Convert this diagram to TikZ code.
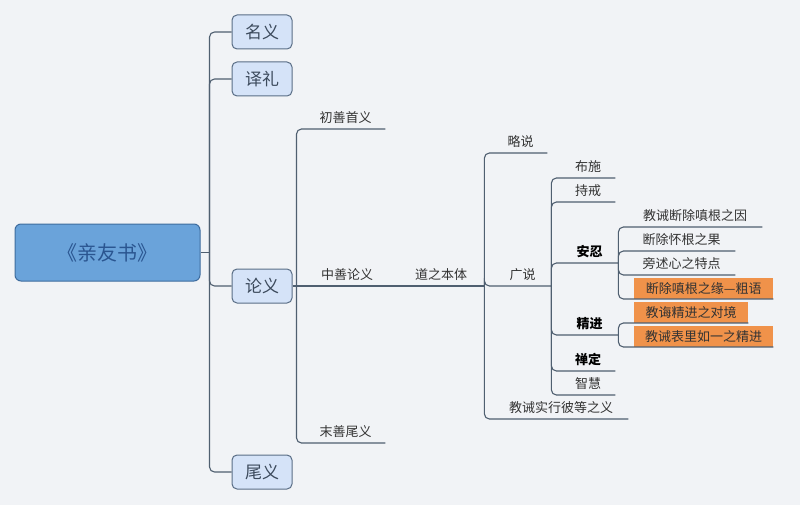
\documentclass[tikz,border=0pt]{standalone}
\usepackage{fontspec}
\newfontfamily\cjk{Noto Sans CJK SC}
\definecolor{bgclr}{HTML}{F1F3F6}
\definecolor{lineclr}{HTML}{4F5F70}
\definecolor{rootfill}{HTML}{6AA3DA}
\definecolor{rootdraw}{HTML}{3E6C9E}
\definecolor{roottext}{HTML}{2A5590}
\definecolor{boxfill}{HTML}{D5E3F8}
\definecolor{boxdraw}{HTML}{5A6E86}
\definecolor{boxtext}{HTML}{3C4A5C}
\definecolor{orangefill}{HTML}{F0924A}
\definecolor{txt}{HTML}{333333}

\begin{document}
\begin{tikzpicture}[
    x=1pt, y=-1pt,
    % Style for the book title
    root/.style={draw=rootdraw, fill=rootfill, line width=1pt, rounded corners=6pt,
        minimum width=185, minimum height=57, inner sep=0pt,
        font=\cjk\fontsize{20}{20}\selectfont, text=roottext},
    % Style for the four main parts
    part/.style={draw=boxdraw, fill=boxfill, line width=1pt, rounded corners=5pt,
        minimum width=60, minimum height=34, inner sep=0pt,
        font=\cjk\fontsize{17}{17}\selectfont, text=boxtext},
    % Style for underlined topics (placed by south west corner)
    leaf/.style={anchor=south west, inner sep=0pt, minimum height=22,
        font=\cjk\fontsize{13}{13}\selectfont, text=txt},
    strong/.style={leaf, font=\cjk\bfseries\fontsize{13}{13}\selectfont, text=black},
    markbox/.style={leaf, fill=orangefill, minimum height=21},
    conn/.style={draw=lineclr, line width=1.1pt, rounded corners=5pt}
]

    % --- 0. Background ---
    \fill[bgclr] (0,0) rectangle (800,505);

    % --- 1. Root and main parts ---
    \node[root] (book) at (107.5,252.5) {《亲友书》};

    \node[part] (mingyi) at (262,32) {名义};
    \node[part] (yili)   at (262,79) {译礼};
    \node[part] (lunyi)  at (262,286) {论义};
    \node[part] (weiyi)  at (262,472) {尾义};

    % --- 2. Parts of the treatise ---
    \node[leaf, minimum width=79] (chushan)   at (306,129) {初善首义};
    \node[leaf, minimum width=82] (zhongshan) at (306,286) {中善论义};
    \node[leaf, minimum width=79] (moshan)    at (306,443) {末善尾义};
    \node[leaf, minimum width=86] (daoti)     at (398,286) {道之本体};

    % --- 3. Body of the path ---
    \node[leaf, minimum width=53]  (lueshuo)   at (494,153) {略说};
    \node[leaf, minimum width=57]  (guangshuo) at (494,286) {广说};
    \node[leaf, minimum width=134] (shixing)   at (494,419) {教诫实行彼等之义};

    % --- 4. Six perfections ---
    \node[leaf, minimum width=54]   (bushi)    at (561,178) {布施};
    \node[leaf, minimum width=54]   (chijie)   at (561,202) {持戒};
    \node[strong, minimum width=57] (anren)    at (561,263) {安忍};
    \node[strong, minimum width=57] (jingjin)  at (561,335) {精进};
    \node[strong, minimum width=54] (chanding) at (561,371) {禅定};
    \node[leaf, minimum width=54]   (zhihui)   at (561,395) {智慧};

    % --- 5. Patience and diligence ---
    \node[leaf, minimum width=134] (anrenA) at (628,227) {教诫断除嗔根之因};
    \node[leaf, minimum width=107] (anrenB) at (628,251) {断除怀根之果};
    \node[leaf, minimum width=107] (anrenC) at (628,275) {旁述心之特点};
    \node[markbox, minimum width=139] (anrenD) at (634,299) {断除嗔根之缘—粗语};

    \node[markbox, minimum width=114] (jingjinA) at (634,323) {教诲精进之对境};
    \node[markbox, minimum width=139] (jingjinB) at (634,347) {教诫表里如一之精进};

    % --- 6. Connectors ---
    \draw[conn] (book.east) -- ++(9,0) coordinate (book-fork);
    \foreach \p in {mingyi, yili, lunyi, weiyi}
        \draw[conn] (book-fork) |- (\p.west);

    \draw[conn] (lunyi.east) -- (zhongshan.south west) -- (zhongshan.south east)
        -- (daoti.south west) -- (daoti.south east);
    \coordinate (lunyi-fork) at ([xshift=4pt]lunyi.east);
    \draw[conn] (lunyi-fork) |- (chushan.south west) -- (chushan.south east);
    \draw[conn] (lunyi-fork) |- (moshan.south west) -- (moshan.south east);

    \foreach \c in {lueshuo, guangshuo, shixing}
        \draw[conn] (daoti.south east) |- (\c.south west) -- (\c.south east);

    \foreach \c in {bushi, chijie, anren, jingjin, chanding, zhihui}
        \draw[conn] (guangshuo.south east) |- (\c.south west) -- (\c.south east);

    \foreach \c in {anrenA, anrenB, anrenC, anrenD}
        \draw[conn] (anren.south east) |- (\c.south west) -- (\c.south east);

    \foreach \c in {jingjinA, jingjinB}
        \draw[conn] (jingjin.south east) |- (\c.south west) -- (\c.south east);

\end{tikzpicture}
\end{document}
